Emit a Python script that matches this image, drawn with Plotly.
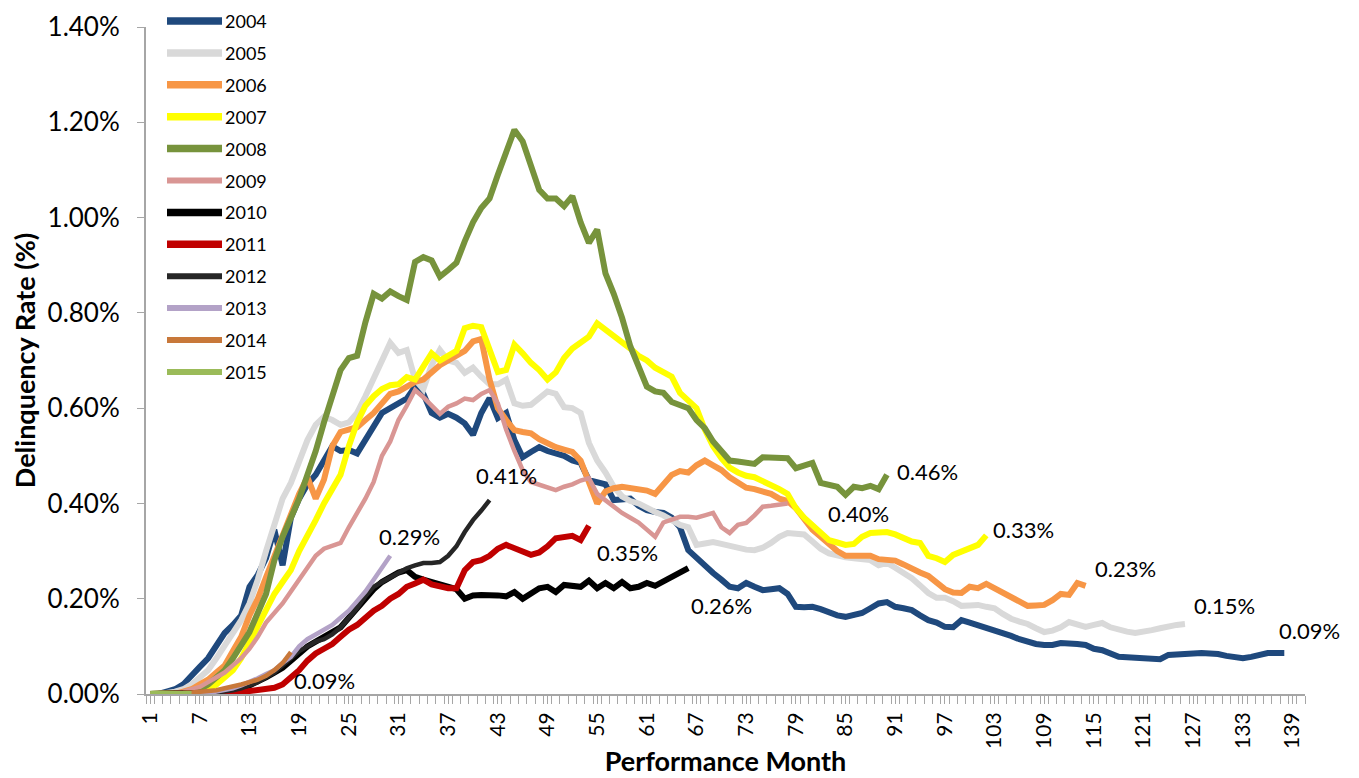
import plotly.graph_objects as go

years = ["2004", "2005", "2006", "2007", "2008", "2009", "2010", "2011", "2012", "2013", "2014", "2015"]

v2004 = [0.0, 0.0, 0.005, 0.01, 0.02, 0.04, 0.057, 0.075, 0.10, 0.128,
         0.145, 0.165, 0.225, 0.25, 0.285, 0.345, 0.27, 0.37, 0.41, 0.44,
         0.46, 0.49, 0.52, 0.51, 0.512, 0.505, 0.535, 0.565, 0.59, 0.60,
         0.61, 0.62, 0.645, 0.63, 0.59, 0.58, 0.588, 0.58, 0.568, 0.544,
         0.59, 0.621, 0.579, 0.59, 0.533, 0.497, 0.508, 0.518, 0.51, 0.505,
         0.50, 0.49, 0.485, 0.449, 0.445, 0.44, 0.407, 0.41, 0.41, 0.395,
         0.386, 0.382, 0.38, 0.37, 0.35, 0.302, 0.285, 0.27, 0.254, 0.24,
         0.225, 0.222, 0.233, 0.225, 0.218, 0.22, 0.222, 0.21, 0.183, 0.182,
         0.183, 0.178, 0.17, 0.165, 0.162, 0.165, 0.17, 0.18, 0.19, 0.193,
         0.183, 0.18, 0.176, 0.165, 0.155, 0.15, 0.141, 0.14, 0.155, 0.15,
         0.145, 0.14, 0.134, 0.13, 0.122, 0.115, 0.109, 0.105, 0.103, 0.103,
         0.107, 0.107, 0.105, 0.103, 0.095, 0.092, 0.085, 0.078, 0.077, 0.076,
         0.075, 0.075, 0.073, 0.082, 0.082, 0.082, 0.085, 0.086, 0.086, 0.084,
         0.08, 0.076, 0.075, 0.078, 0.082, 0.086, 0.086, 0.086]
v2005 = [0.0, 0.0, 0.002, 0.005, 0.01, 0.02, 0.035, 0.05, 0.075, 0.10,
         0.125, 0.155, 0.19, 0.24, 0.30, 0.36, 0.41, 0.443, 0.49, 0.533,
         0.565, 0.582, 0.575, 0.565, 0.57, 0.59, 0.625, 0.66, 0.70, 0.737,
         0.716, 0.722, 0.66, 0.64, 0.69, 0.722, 0.70, 0.695, 0.674, 0.685,
         0.666, 0.65, 0.65, 0.66, 0.61, 0.605, 0.607, 0.62, 0.635, 0.63,
         0.602, 0.60, 0.59, 0.527, 0.49, 0.465, 0.435, 0.415, 0.405, 0.40,
         0.39, 0.382, 0.375, 0.365, 0.355, 0.35, 0.313, 0.316, 0.319, 0.315,
         0.31, 0.305, 0.303, 0.302, 0.307, 0.317, 0.33, 0.338, 0.338, 0.335,
         0.32, 0.305, 0.295, 0.29, 0.287, 0.285, 0.283, 0.281, 0.27, 0.275,
         0.265, 0.255, 0.243, 0.228, 0.212, 0.202, 0.202, 0.195, 0.185, 0.186,
         0.187, 0.183, 0.18, 0.168, 0.158, 0.152, 0.147, 0.138, 0.13, 0.133,
         0.14, 0.151, 0.146, 0.141, 0.145, 0.149, 0.14, 0.134, 0.131, 0.128,
         0.13, 0.134, 0.138, 0.143, 0.145, 0.147]
v2006 = [0.0, 0.0, 0.0, 0.0, 0.005, 0.01, 0.02, 0.03, 0.045, 0.06,
         0.09, 0.12, 0.165, 0.20, 0.245, 0.29, 0.335, 0.375, 0.42, 0.455,
         0.41, 0.45, 0.52, 0.55, 0.555, 0.56, 0.575, 0.59, 0.61, 0.63,
         0.635, 0.645, 0.655, 0.66, 0.675, 0.69, 0.70, 0.71, 0.72, 0.74,
         0.745, 0.66, 0.60, 0.575, 0.554, 0.55, 0.547, 0.535, 0.525, 0.518,
         0.513, 0.508, 0.49, 0.445, 0.40, 0.425, 0.432, 0.435, 0.433, 0.432,
         0.427, 0.42, 0.44, 0.46, 0.468, 0.465, 0.48, 0.49, 0.48, 0.47,
         0.455, 0.445, 0.433, 0.43, 0.425, 0.42, 0.41, 0.405, 0.39, 0.365,
         0.345, 0.33, 0.315, 0.30, 0.29, 0.29, 0.292, 0.29, 0.283, 0.28,
         0.28, 0.272, 0.262, 0.255, 0.248, 0.235, 0.22, 0.213, 0.212, 0.225,
         0.222, 0.231, 0.222, 0.214, 0.203, 0.193, 0.185, 0.186, 0.187, 0.197,
         0.21, 0.208, 0.233, 0.227]
v2007 = [0.0, 0.0, 0.0, 0.0, 0.0, 0.002, 0.005, 0.01, 0.02, 0.035,
         0.05, 0.075, 0.11, 0.14, 0.18, 0.21, 0.235, 0.26, 0.30, 0.33,
         0.365, 0.40, 0.43, 0.46, 0.52, 0.57, 0.605, 0.625, 0.64, 0.648,
         0.65, 0.665, 0.66, 0.69, 0.715, 0.70, 0.71, 0.72, 0.768, 0.773,
         0.77, 0.72, 0.676, 0.68, 0.733, 0.715, 0.695, 0.68, 0.66, 0.675,
         0.705, 0.725, 0.737, 0.75, 0.778, 0.765, 0.75, 0.74, 0.725, 0.71,
         0.70, 0.685, 0.675, 0.666, 0.632, 0.615, 0.60, 0.555, 0.52, 0.495,
         0.475, 0.465, 0.458, 0.455, 0.447, 0.44, 0.43, 0.42, 0.39, 0.37,
         0.355, 0.34, 0.323, 0.318, 0.313, 0.315, 0.33, 0.338, 0.34, 0.34,
         0.335, 0.327, 0.32, 0.317, 0.29, 0.285, 0.277, 0.292, 0.30, 0.305,
         0.313, 0.333]
v2008 = [0.0, 0.0, 0.0, 0.0, 0.002, 0.005, 0.01, 0.02, 0.035, 0.05,
         0.075, 0.10, 0.13, 0.17, 0.21, 0.28, 0.33, 0.37, 0.41, 0.46,
         0.51, 0.57, 0.625, 0.68, 0.705, 0.71, 0.78, 0.84, 0.83, 0.845,
         0.835, 0.827, 0.907, 0.917, 0.91, 0.876, 0.89, 0.905, 0.95, 0.99,
         1.02, 1.04, 1.09, 1.14, 1.184, 1.16, 1.11, 1.058, 1.04, 1.04,
         1.024, 1.045, 0.99, 0.947, 0.975, 0.883, 0.84, 0.79, 0.73, 0.69,
         0.645, 0.635, 0.632, 0.613, 0.606, 0.60, 0.575, 0.558, 0.53, 0.51,
         0.49, 0.488, 0.485, 0.483, 0.497, 0.497, 0.495, 0.495, 0.474, 0.48,
         0.485, 0.443, 0.44, 0.435, 0.418, 0.435, 0.432, 0.437, 0.43, 0.46]
v2009 = [0.0, 0.0, 0.0, 0.002, 0.005, 0.01, 0.015, 0.025, 0.035, 0.045,
         0.06, 0.075, 0.095, 0.12, 0.15, 0.17, 0.19, 0.215, 0.24, 0.265,
         0.29, 0.305, 0.312, 0.317, 0.35, 0.38, 0.41, 0.445, 0.50, 0.53,
         0.575, 0.605, 0.638, 0.623, 0.605, 0.588, 0.603, 0.61, 0.62, 0.617,
         0.63, 0.638, 0.61, 0.555, 0.51, 0.47, 0.445, 0.44, 0.435, 0.428,
         0.435, 0.44, 0.448, 0.453, 0.42, 0.407, 0.395, 0.38, 0.37, 0.36,
         0.345, 0.33, 0.36, 0.365, 0.372, 0.372, 0.37, 0.375, 0.38, 0.35,
         0.338, 0.355, 0.359, 0.375, 0.393, 0.395, 0.397, 0.40]
v2010 = [0.0, 0.0, 0.0, 0.0, 0.0, 0.0, 0.0, 0.0, 0.003, 0.005,
         0.008, 0.012, 0.018, 0.025, 0.035, 0.045, 0.055, 0.07, 0.085, 0.10,
         0.11, 0.12, 0.13, 0.14, 0.16, 0.18, 0.20, 0.22, 0.235, 0.245,
         0.255, 0.26, 0.246, 0.24, 0.235, 0.228, 0.222, 0.22, 0.20, 0.207,
         0.208, 0.209, 0.207, 0.205, 0.214, 0.20, 0.212, 0.222, 0.225, 0.214,
         0.229, 0.226, 0.225, 0.238, 0.222, 0.233, 0.222, 0.235, 0.222, 0.225,
         0.233, 0.227, 0.236, 0.246, 0.255, 0.264]
v2011 = [0.0, 0.0, 0.0, 0.0, 0.0, 0.0, 0.0, 0.0, 0.0, 0.0,
         0.002, 0.004, 0.006, 0.008, 0.01, 0.013, 0.02, 0.035, 0.05, 0.07,
         0.085, 0.095, 0.105, 0.12, 0.135, 0.145, 0.16, 0.175, 0.185, 0.20,
         0.21, 0.225, 0.232, 0.24, 0.23, 0.225, 0.222, 0.222, 0.26, 0.277,
         0.281, 0.29, 0.305, 0.313, 0.306, 0.298, 0.292, 0.297, 0.31, 0.327,
         0.33, 0.332, 0.323, 0.353]
v2012 = [0.0, 0.0, 0.0, 0.0, 0.0, 0.0, 0.0, 0.0, 0.003, 0.005,
         0.008, 0.012, 0.018, 0.025, 0.035, 0.045, 0.06, 0.075, 0.09, 0.10,
         0.11, 0.115, 0.125, 0.14, 0.16, 0.18, 0.205, 0.225, 0.235, 0.245,
         0.255, 0.264, 0.27, 0.275, 0.275, 0.277, 0.29, 0.31, 0.34, 0.365,
         0.385, 0.407]
v2013 = [0.0, 0.0, 0.0, 0.0, 0.0, 0.0, 0.0, 0.002, 0.005, 0.008,
         0.012, 0.018, 0.025, 0.033, 0.042, 0.05, 0.065, 0.078, 0.10, 0.115,
         0.125, 0.135, 0.145, 0.16, 0.175, 0.195, 0.215, 0.24, 0.265, 0.29]
v2014 = [0.0, 0.0, 0.0, 0.001, 0.002, 0.003, 0.004, 0.006, 0.008, 0.012,
         0.015, 0.02, 0.025, 0.03, 0.038, 0.05, 0.065, 0.088]
v2015 = [0.002, 0.002, 0.002, 0.002, 0.002, 0.002]

series = [v2004, v2005, v2006, v2007, v2008, v2009, v2010, v2011, v2012, v2013, v2014, v2015]
colors = ["#1F497D", "#D9D9D9", "#F79646", "#FFFF00", "#77933C", "#D99694",
          "#000000", "#C00000", "#262626", "#B3A2C7", "#C8783A", "#9BBB59"]
widths = [6, 6, 6, 6, 6, 4.5, 6, 6, 4.5, 4.5, 4.5, 4.5]
# label offsets (px) for end-of-series data labels
lab_dx = [-7, 7, 7, 5, 8, 38, 1, 6, -16, -13, 1, None]
lab_dy = [23, 18, 17, 6, 3, -10, -37, -27, 25, 19, -28, None]

x_ticks = list(range(1, 140, 6))
y_ticks = [0.0, 0.2, 0.4, 0.6, 0.8, 1.0, 1.2, 1.4]

FONT = "Lato"
OFF = 8                       # page body margin offset
W, H = 1359 - OFF, 778 - OFF  # figure size
L, R, T, B = 146 - OFF, 1305 - OFF, 27 - OFF, 694 - OFF  # plot area in figure px

fig = go.Figure()
for yr, vals, col, w in zip(years, series, colors, widths):
    fig.add_trace(go.Scatter(
        x=list(range(1, len(vals) + 1)), y=vals, mode="lines", name=yr,
        line=dict(color=col, width=w), showlegend=False,
        hovertemplate=yr + " month %{x}: %{y:.2f}%<extra></extra>"))

annotations = []
for vals, dx, dy in zip(series, lab_dx, lab_dy):
    if dx is None:
        continue
    annotations.append(dict(
        x=len(vals), y=vals[-1], xref="x", yref="y", text=f"{vals[-1]:.2f}%",
        showarrow=False, xanchor="left", yanchor="middle", xshift=dx, yshift=dy,
        font=dict(family=FONT, size=22, color="#000000")))

# manual legend (top-left)
pw, ph = R - L, B - T
shapes = []
for i, (yr, col, w) in enumerate(zip(years, colors, widths)):
    py = 21 - OFF + i * 31.9
    yp = (B - py) / ph
    shapes.append(dict(type="line", xref="paper", yref="paper",
                       x0=(167 - OFF - L) / pw, x1=(222 - OFF - L) / pw, y0=yp, y1=yp,
                       line=dict(color=col, width=w + 1.5)))
    annotations.append(dict(x=(224 - OFF - L) / pw, y=yp, xref="paper", yref="paper",
                            text=yr, showarrow=False, xanchor="left", yanchor="middle",
                            borderpad=0,
                            font=dict(family=FONT, size=18, color="#000000")))

fig.update_layout(
    width=W, height=H,
    margin=dict(l=L, r=W - R, t=T, b=H - B),
    paper_bgcolor="white", plot_bgcolor="white",
    font=dict(family=FONT, color="#000000"),
    annotations=annotations, shapes=shapes,
    xaxis=dict(
        range=[0.5, 140.5], tickmode="array", tickvals=x_ticks,
        ticktext=[str(t) for t in x_ticks], tickangle=-90,
        tickfont=dict(family=FONT, size=21, color="#000000"),
        ticks="outside", ticklen=8, tickcolor="#A6A6A6",
        showline=True, linecolor="#A6A6A6", linewidth=2,
        showgrid=False, zeroline=False, automargin=False,
        minor=dict(ticks="outside", tickmode="linear", tick0=0.5, dtick=1,
                   ticklen=8, tickcolor="#A6A6A6", tickwidth=1, showgrid=False),
        title=dict(text="<b>Performance Month</b>", standoff=4,
                   font=dict(family=FONT, size=27, color="#000000")),
    ),
    yaxis=dict(
        range=[0, 1.4], tickmode="array", tickvals=y_ticks,
        ticktext=[f"{t:.2f}%" for t in y_ticks],
        tickfont=dict(family=FONT, size=26, color="#000000"),
        ticks="outside", ticklen=7, tickcolor="#A6A6A6", ticklabelstandoff=12,
        showline=True, linecolor="#A6A6A6", linewidth=2,
        showgrid=False, zeroline=False, automargin=False,
        title=dict(text="<b>Delinquency Rate (%)</b>", standoff=6,
                   font=dict(family=FONT, size=27, color="#000000")),
    ),
)

fig.write_html("out.html")
